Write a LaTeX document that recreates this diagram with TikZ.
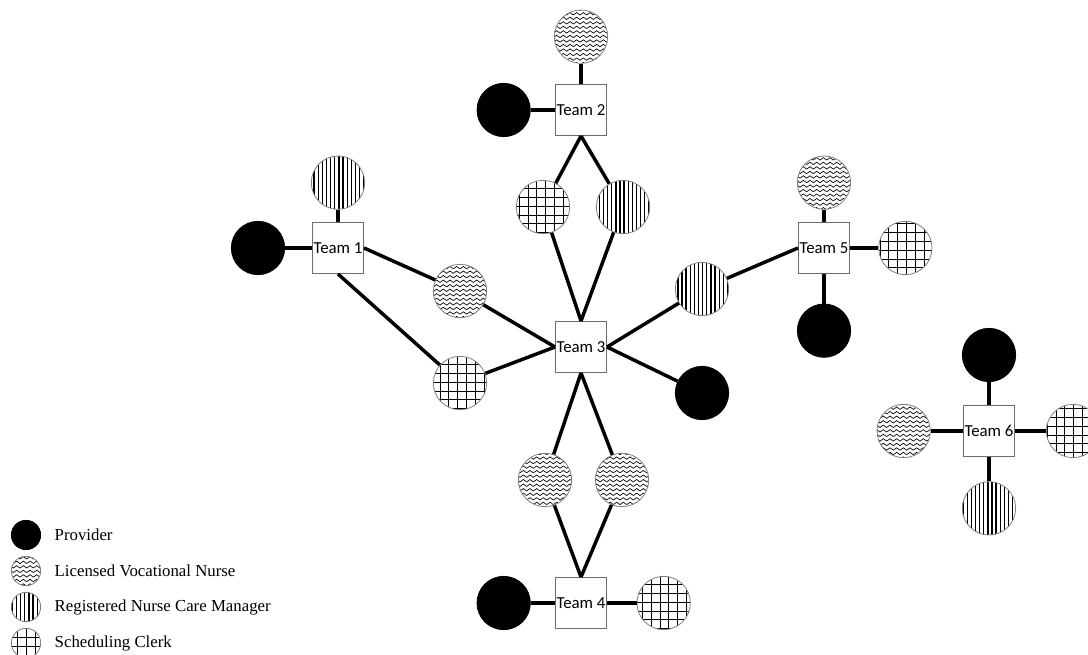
\documentclass[tikz,border=0pt]{standalone}
\usepackage{fontspec}
\setmainfont{Liberation Serif}
\newfontfamily\teamfamily{Carlito}
\usetikzlibrary{patterns,positioning}

\newcommand{\teamfont}{\teamfamily\fontsize{12.6}{14}\selectfont}
\newcommand{\legendfont}{\fontsize{12.6}{15}\selectfont}

% fill patterns for the roles
\pgfdeclarepatternformonly{waves}{\pgfqpoint{-0.5pt}{-0.5pt}}{\pgfqpoint{5.5pt}{4.5pt}}{\pgfqpoint{5pt}{3.4pt}}{%
  \pgfsetlinewidth{0.5pt}
  \pgfpathmoveto{\pgfqpoint{0pt}{0.6pt}}
  \pgfpathlineto{\pgfqpoint{2.5pt}{2.4pt}}
  \pgfpathlineto{\pgfqpoint{5pt}{0.6pt}}
  \pgfusepath{stroke}}
\pgfdeclarepatternformonly{vstripes}{\pgfqpoint{-1pt}{-1pt}}{\pgfqpoint{4pt}{4pt}}{\pgfqpoint{3.1pt}{3.1pt}}{%
  \pgfsetlinewidth{1pt}
  \pgfpathmoveto{\pgfqpoint{0pt}{-1pt}}
  \pgfpathlineto{\pgfqpoint{0pt}{4pt}}
  \pgfusepath{stroke}}
\pgfdeclarepatternformonly{gridlines}{\pgfqpoint{-1pt}{-1pt}}{\pgfqpoint{7.5pt}{7.5pt}}{\pgfqpoint{6.6pt}{6.6pt}}{%
  \pgfsetlinewidth{0.7pt}
  \pgfpathmoveto{\pgfqpoint{0pt}{-1pt}}
  \pgfpathlineto{\pgfqpoint{0pt}{7.5pt}}
  \pgfpathmoveto{\pgfqpoint{-1pt}{0pt}}
  \pgfpathlineto{\pgfqpoint{7.5pt}{0pt}}
  \pgfusepath{stroke}}

\begin{document}
\begin{tikzpicture}[x=0.75pt,y=-0.75pt,on grid,
  team/.style={draw=gray!85!black,line width=1pt,fill=white,minimum size=38pt,inner sep=0pt,font=\teamfont},
  member/.style={circle,draw=gray,line width=0.6pt,minimum size=40pt,inner sep=0pt},
  provider/.style={member,fill=black,draw=black},
  lvn/.style={member,pattern=waves},
  rncm/.style={member,pattern=vstripes},
  clerk/.style={member,pattern=gridlines},
  small/.style={minimum size=22pt},
  link/.style={line width=2.6pt},
  legtext/.style={anchor=west,font=\legendfont}]
\useasboundingbox (0,0) rectangle (1088,655);

% teams
\node[team](t1) at (338,248) {Team 1};
\node[team](t2) at (581,110) {Team 2};
\node[team](t3) at (581,347) {Team 3};
\node[team](t4) at (581,603) {Team 4};
\node[team](t5) at (824,248) {Team 5};
\node[team](t6) at (989,431) {Team 6};

% members of one team
\node[rncm, above=49pt of t1](t1rn) {};
\node[provider, left=60pt of t1](t1pr) {};
\node[lvn, above=55pt of t2](t2lvn) {};
\node[provider, left=58pt of t2](t2pr) {};
\node[provider, left=58pt of t4](t4pr) {};
\node[clerk, right=62pt of t4](t4clk) {};
\node[lvn, above=49pt of t5](t5lvn) {};
\node[clerk, right=61pt of t5](t5clk) {};
\node[provider, below=62pt of t5](t5pr) {};
\node[provider, above=57pt of t6](t6pr) {};
\node[lvn, left=64pt of t6](t6lvn) {};
\node[clerk, right=63pt of t6](t6clk) {};
\node[rncm, below=58pt of t6](t6rn) {};
\node[provider](t3pr) at (702,393) {};

% shared members
\node[lvn](m13lvn) at (460,291) {};
\node[clerk](m13clk) at (460,383) {};
\node[clerk](m23clk) at (543,207) {};
\node[rncm](m23rn) at (623,207) {};
\node[lvn](m34lvna) at (545,480) {};
\node[lvn](m34lvnb) at (622,480) {};
\node[rncm](m35rn) at (702,289) {};

\draw[link] (t1.north) -- (t1rn);
\draw[link] (t1.west) -- (t1pr);
\draw[link] (t1.east) -- (m13lvn);
\draw[link] (t1.south) -- (m13clk);
\draw[link] (t2.north) -- (t2lvn);
\draw[link] (t2.west) -- (t2pr);
\draw[link] (t2.south) -- (m23clk);
\draw[link] (t2.south) -- (m23rn);
\draw[link] (t3.west) -- (m13lvn);
\draw[link] (t3.west) -- (m13clk);
\draw[link] (t3.north) -- (m23clk);
\draw[link] (t3.north) -- (m23rn);
\draw[link] (t3.east) -- (m35rn);
\draw[link] (t3.east) -- (t3pr);
\draw[link] (t3.south) -- (m34lvna);
\draw[link] (t3.south) -- (m34lvnb);
\draw[link] (t4.north) -- (m34lvna);
\draw[link] (t4.north) -- (m34lvnb);
\draw[link] (t4.west) -- (t4pr);
\draw[link] (t4.east) -- (t4clk);
\draw[link] (t5.west) -- (m35rn);
\draw[link] (t5.north) -- (t5lvn);
\draw[link] (t5.east) -- (t5clk);
\draw[link] (t5.south) -- (t5pr);
\draw[link] (t6.north) -- (t6pr);
\draw[link] (t6.west) -- (t6lvn);
\draw[link] (t6.east) -- (t6clk);
\draw[link] (t6.south) -- (t6rn);

% legend
\node[provider,small](kpr) at (26,535) {};
\node[lvn,small](klvn) at (26,571) {};
\node[rncm,small](krn) at (26,607) {};
\node[clerk,small](kclk) at (26,643) {};
\node[legtext](kprt) at (50,535) {Provider};
\node[legtext](klvnt) at (50,571) {Licensed Vocational Nurse};
\node[legtext](krnt) at (50,607) {Registered Nurse Care Manager};
\node[legtext](kclkt) at (50,643) {Scheduling Clerk};
\end{tikzpicture}
\end{document}
